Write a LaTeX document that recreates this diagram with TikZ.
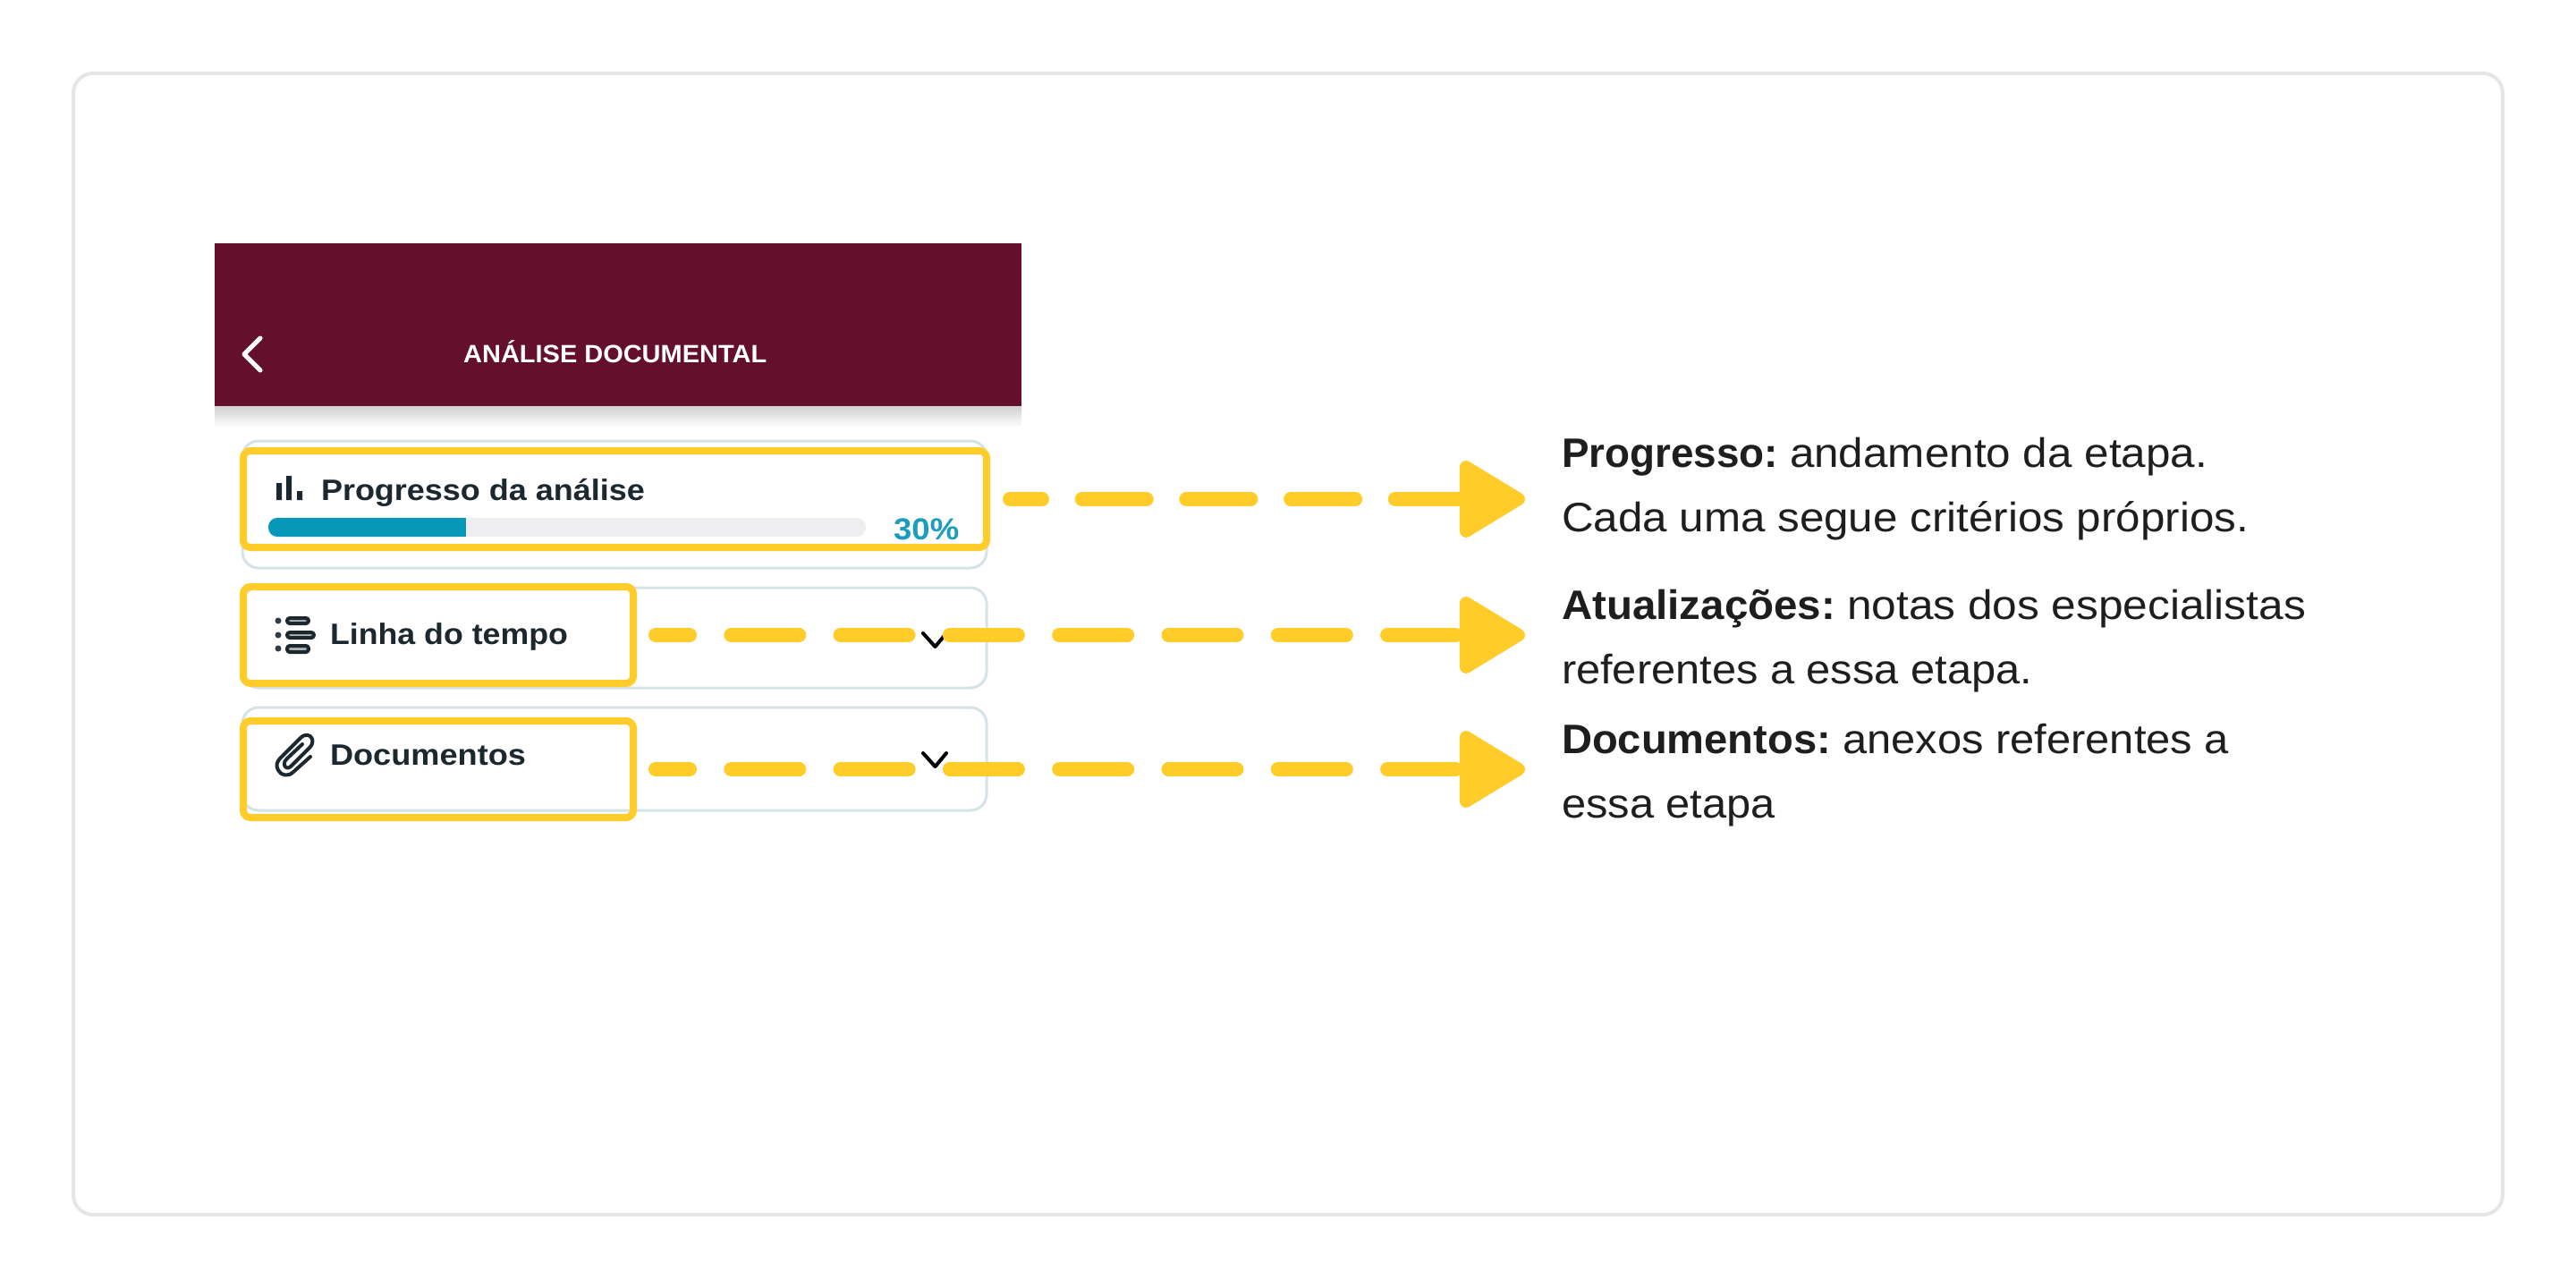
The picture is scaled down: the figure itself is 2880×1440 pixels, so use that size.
\documentclass[tikz,border=0pt]{standalone}
\usepackage{fontspec}
\usepackage{graphicx}
\setmainfont{Liberation Sans}
\usetikzlibrary{arrows.meta,calc}
\definecolor{wine}{RGB}{100,15,44}
\definecolor{amber}{RGB}{255,204,41}
\definecolor{framegrey}{RGB}{230,230,230}
\definecolor{cardline}{RGB}{213,227,232}
\definecolor{ink}{RGB}{30,30,30}
\definecolor{slate}{RGB}{27,40,48}
\definecolor{teal}{RGB}{5,152,184}
\definecolor{pct}{RGB}{26,157,191}
\definecolor{track}{RGB}{238,238,240}
\newcommand{\fitw}[2]{\resizebox{#1pt}{\height}{#2}}
\newcommand{\twopart}[4]{\fitw{#1}{\textbf{#2}}\hspace{13pt}\fitw{#3}{#4}}
\tikzset{
  framebox/.style={draw=framegrey,line width=4pt,rounded corners=22pt,fill=white,inner sep=0pt,outer sep=0pt,minimum width=2716pt,minimum height=1276pt},
  cardbox/.style={draw=cardline,line width=3pt,rounded corners=18pt,fill=white,inner sep=0pt,outer sep=0pt},
  hilite/.style={draw=amber,line width=8pt,rounded corners=8pt,inner sep=0pt,outer sep=0pt},
  headbar/.style={fill=wine,inner sep=0pt,outer sep=0pt,minimum width=902pt,minimum height=182pt},
  lbl/.style={anchor=base west,inner sep=0pt,outer sep=0pt,align=left,text=ink,font=\fontsize{46}{72}\selectfont},
  cardtext/.style={anchor=base west,inner sep=0pt,outer sep=0pt,text=slate,font=\fontsize{33}{40}\selectfont\bfseries},
  conn/.style={draw=amber,line width=16pt,line cap=round,-{Triangle[length=80pt,width=93pt,line width=14pt,round,color=amber,fill=amber]}},
  chev/.style={draw=black,line width=4pt,line cap=round,line join=round},
  iconline/.style={draw=slate,line width=4pt,line cap=round,line join=round}
}
\begin{document}
\begin{tikzpicture}[x=1pt,y=-1pt]
\useasboundingbox (0,0) rectangle (2880,1440);
\fill[white] (0,0) rectangle (2880,1440);
\node[framebox] (frame) at (1440,720) {};
% header
\shade[top color=black!18,bottom color=white] (240,454) rectangle (1142,478);
\node[headbar] (head) at (691,363) {};
\draw[white,line width=5pt,line cap=round,line join=round] (291,378) -- (273,396) -- (291,414);
\node[anchor=base west,inner sep=0pt,text=white,font=\fontsize{28}{32}\selectfont\bfseries] (title) at (518,405) {\fitw{339}{ANÁLISE DOCUMENTAL}};
% cards
\node[cardbox,minimum width=832pt,minimum height=142pt] (c1) at (687,564) {};
\node[cardbox,minimum width=832pt,minimum height=112pt] (c2) at (687,713) {};
\node[cardbox,minimum width=832pt,minimum height=115pt] (c3) at (687,848.5) {};
% card 1 contents
\fill[slate] (309,540) rectangle (315,559) (320,532) rectangle (326,559) (332,549) rectangle (338,559);
\node[cardtext] (n1) at (359,559) {\fitw{362}{Progresso da análise}};
\fill[track,rounded corners=10pt] (300,579) rectangle (968,600);
\fill[teal,rounded corners=10pt] (300,579) rectangle (530,600);
\fill[track] (521,579) rectangle (532,600);
\node[anchor=base west,inner sep=0pt,text=pct,font=\fontsize{34}{40}\selectfont\bfseries] (p1) at (999,603) {\fitw{73}{30\%}};
% card 2 contents
\fill[slate!90] (311,694) circle (3.5pt) (311,710) circle (3.5pt) (311,725) circle (3.5pt);
\draw[iconline,fill=black!30,rounded corners=3pt] (321,691) rectangle (345,697);
\draw[iconline,fill=black!30,rounded corners=3pt] (321,707) rectangle (351,713);
\draw[iconline,fill=black!30,rounded corners=3pt] (321,722) rectangle (345,729);
\node[cardtext] (n2) at (369,720) {\fitw{266}{Linha do tempo}};
\draw[chev] (1032,708) -- (1045.5,723) -- (1058,708);
% card 3 contents
\draw[iconline] (347,846) -- (328,863) .. controls (322,869) and (314,867) .. (311,861) .. controls (308,856) and (310,851) .. (313,848) -- (336,825) .. controls (341,820) and (347,821) .. (349,826) .. controls (350,830) and (349,833) .. (346,836) -- (325,857) .. controls (322,860) and (318,858) .. (318,855) .. controls (317,852) and (319,850) .. (321,848) -- (338,832);
\node[cardtext] (n3) at (369,855) {\fitw{219}{Documentos}};
\draw[chev] (1032,842) -- (1045.5,857) -- (1058,842);
% highlights
\node[hilite,minimum width=831pt,minimum height=108pt] (b1) at (687.5,558) {};
\node[hilite,minimum width=436pt,minimum height=108pt] (b2) at (490,710) {};
\node[hilite,minimum width=436pt,minimum height=108pt] (b3) at (490,860) {};
% labels (the base anchor of a two-line node is its last line)
\node[lbl] (t1) at (1746,594) {\twopart{242}{Progresso:}{467}{andamento da etapa.}\\\fitw{768}{Cada uma segue critérios próprios.}};
\node[lbl] (t2) at (1746,764) {\twopart{306}{Atualizações:}{513}{notas dos especialistas}\\\fitw{526}{referentes a essa etapa.}};
\node[lbl] (t3) at (1746,914) {\twopart{301}{Documentos:}{432}{anexos referentes a}\\\fitw{239}{essa etapa}};
% connectors
\coordinate (e1) at (1705,558);
\coordinate (e2) at (1705,710);
\coordinate (e3) at (1705,860);
\draw[conn,dash pattern=on 72pt off 44.7pt,dash phase=36pt] ([xshift=26pt]b1.east) -- (e1);
\draw[conn,dash pattern=on 76pt off 46.3pt,dash phase=38pt] ([xshift=25pt]b2.east) -- (e2);
\draw[conn,dash pattern=on 76pt off 46.3pt,dash phase=38pt] ([xshift=25pt]b3.east) -- (e3);
\end{tikzpicture}
\end{document}
